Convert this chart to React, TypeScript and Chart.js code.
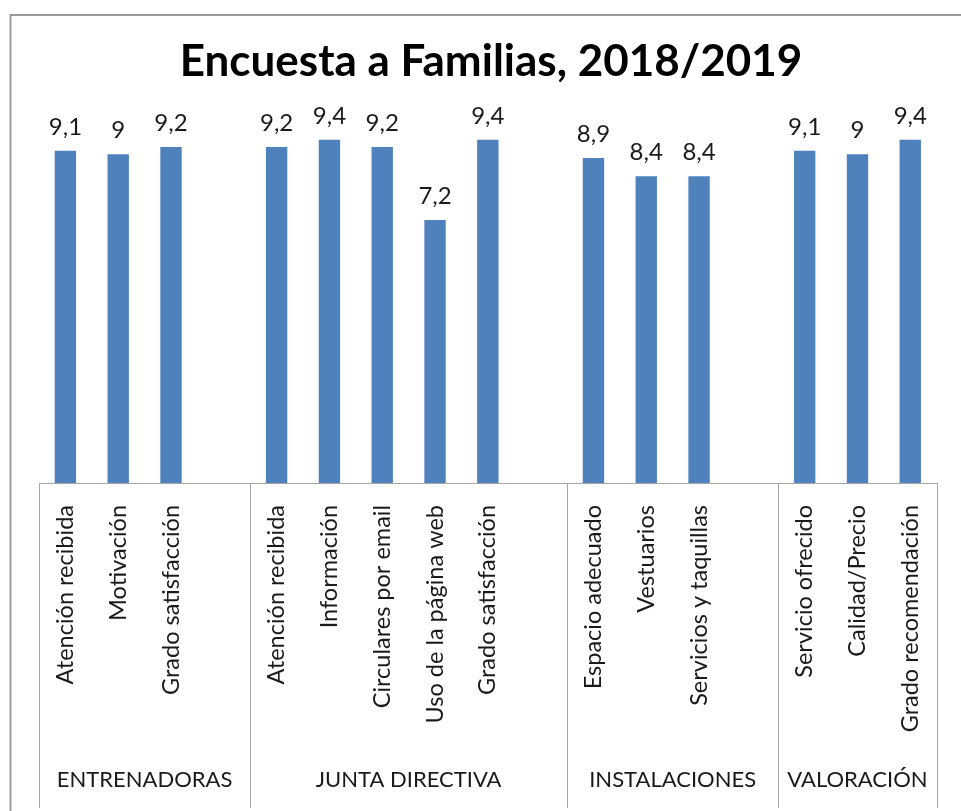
import React, { useEffect, useRef } from "react";
import { Chart, registerables } from "chart.js";

Chart.register(...registerables);

const TITLE = "Encuesta a Familias, 2018/2019";

const entrenadorasLabels = ["Atención recibida", "Motivación", "Grado satisfacción"];
const entrenadorasValues = [9.1, 9, 9.2];

const juntaLabels = ["Atención recibida", "Información", "Circulares por email", "Uso de la página web", "Grado satisfacción"];
const juntaValues = [9.2, 9.4, 9.2, 7.2, 9.4];

const instalacionesLabels = ["Espacio adecuado", "Vestuarios", "Servicios y taquillas"];
const instalacionesValues = [8.9, 8.4, 8.4];

const valoracionLabels = ["Servicio ofrecido", "Calidad/Precio", "Grado recomendación"];
const valoracionValues = [9.1, 9, 9.4];

const groupNames = ["ENTRENADORAS", "JUNTA DIRECTIVA", "INSTALACIONES", "VALORACIÓN"];

// Build flat category list; each group except the last gets one empty slot after it
const groupLabelLists = [entrenadorasLabels, juntaLabels, instalacionesLabels, valoracionLabels];
const groupValueLists = [entrenadorasValues, juntaValues, instalacionesValues, valoracionValues];

const categories: string[] = [];
const values: (number | null)[] = [];
const groupSizes: number[] = [];
groupLabelLists.forEach((labels, gi) => {
  const vals = groupValueLists[gi];
  labels.forEach((l, i) => {
    categories.push(l);
    values.push(vals[i]);
  });
  let size = labels.length;
  if (gi < groupLabelLists.length - 1) {
    categories.push("");
    values.push(null);
    size += 1;
  }
  groupSizes.push(size);
});

const FONT = "Lato, 'Open Sans', sans-serif";
const TEXT_COLOR = "#1a1a1a";
const LINE_COLOR = "#a6a6a6";

const decorPlugin = {
  id: "decor",
  afterDatasetsDraw(chart: any) {
    const ctx = chart.ctx;
    const meta = chart.getDatasetMeta(0);
    ctx.save();
    ctx.font = `24px ${FONT}`;
    ctx.fillStyle = TEXT_COLOR;
    ctx.textAlign = "center";
    ctx.textBaseline = "alphabetic";
    meta.data.forEach((el: any, i: number) => {
      const v = values[i];
      if (v === null || v === undefined) return;
      const txt = String(v).replace(".", ",");
      ctx.fillText(txt, el.x, el.y - 16);
    });
    ctx.restore();
  },
  afterDraw(chart: any) {
    const ctx = chart.ctx;
    const xs = chart.scales.x;
    const area = chart.chartArea;
    const H = chart.height;
    const W = chart.width;
    const n = categories.length;
    const slot = (xs.getPixelForValue(n - 1) - xs.getPixelForValue(0)) / (n - 1);
    ctx.save();
    // outer frame (left and top)
    ctx.strokeStyle = "#9a9a9a";
    ctx.lineWidth = 2;
    ctx.beginPath();
    ctx.moveTo(10.5, 15);
    ctx.lineTo(10.5, H);
    ctx.moveTo(9.5, 15);
    ctx.lineTo(W, 15);
    ctx.stroke();

    // group separators
    ctx.strokeStyle = LINE_COLOR;
    ctx.lineWidth = 1;
    let idx = 0;
    const bounds: number[] = [xs.getPixelForValue(0) - slot / 2];
    groupSizes.forEach((s) => {
      idx += s;
      bounds.push(xs.getPixelForValue(idx - 1) + slot / 2);
    });
    ctx.beginPath();
    bounds.forEach((b) => {
      const x = Math.round(b) + 0.5;
      ctx.moveTo(x, area.bottom);
      ctx.lineTo(x, H - 3);
    });
    ctx.stroke();

    // group labels
    ctx.font = `22px ${FONT}`;
    ctx.fillStyle = TEXT_COLOR;
    ctx.textAlign = "center";
    ctx.textBaseline = "middle";
    groupNames.forEach((g, gi) => {
      const cx = (bounds[gi] + bounds[gi + 1]) / 2;
      ctx.fillText(g, cx, 780);
    });
    ctx.restore();
  },
};

export default function App() {
  const ref = useRef<HTMLCanvasElement | null>(null);
  useEffect(() => {
    if (!ref.current) return;
    const chart = new Chart(ref.current, {
      type: "bar",
      data: {
        labels: categories,
        datasets: [
          {
            data: values,
            backgroundColor: "#4f81bd",
            borderWidth: 0,
            barPercentage: 0.405,
            categoryPercentage: 1,
          },
        ],
      },
      options: {
        responsive: false,
        animation: false,
        devicePixelRatio: 1,
        layout: { padding: { left: 39, right: 18, top: 0, bottom: 0 } },
        plugins: {
          legend: { display: false },
          tooltip: { enabled: false },
          title: {
            display: true,
            text: TITLE,
            color: "#000",
            font: { family: FONT, size: 44, weight: "bold", lineHeight: 1.2 },
            padding: { top: 35, bottom: 30 },
          },
        },
        scales: {
          x: {
            type: "category",
            offset: true,
            grid: { display: false, drawTicks: false },
            border: { display: true, color: LINE_COLOR, width: 1 },
            ticks: {
              autoSkip: false,
              minRotation: 90,
              maxRotation: 90,
              padding: 22,
              color: TEXT_COLOR,
              font: { family: FONT, size: 23.5 },
            },
            afterFit: (s: any) => {
              s.height = 328;
            },
          },
          y: { display: false, min: 0, max: 10 },
        },
      },
      plugins: [decorPlugin],
    });
    return () => chart.destroy();
  }, []);
  return (
    <div style={{ position: "fixed", left: 0, top: 0, width: 961, height: 811, background: "#fff" }}>
      <canvas ref={ref} width={961} height={811} style={{ width: 961, height: 811 }} />
    </div>
  );
}
